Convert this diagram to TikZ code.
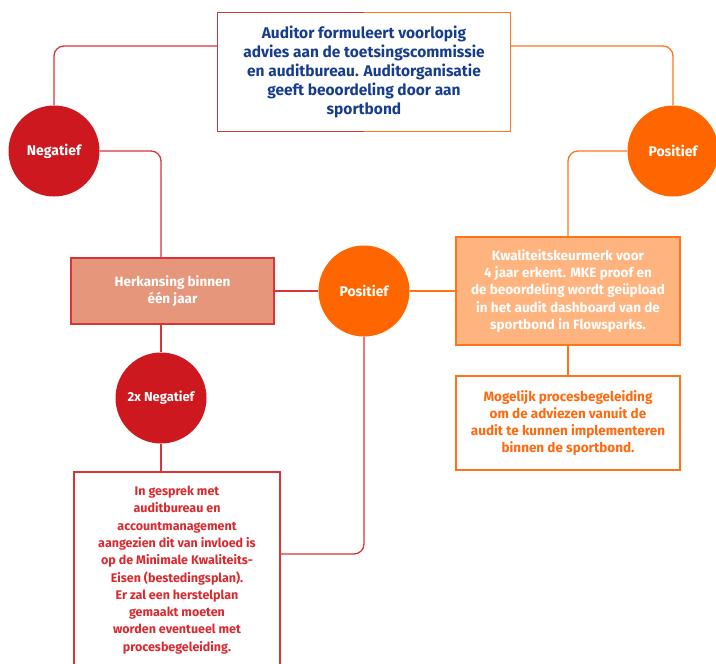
\documentclass[tikz,border=0pt]{standalone}
\usepackage{fontspec}
\setmainfont{Fira Sans}
\definecolor{cred}{HTML}{CC181E}
\definecolor{corange}{HTML}{FF6600}
\definecolor{lred}{HTML}{D8343A}
\definecolor{lorange}{HTML}{FF7418}
\definecolor{herkfill}{HTML}{E6977B}
\definecolor{kwalfill}{HTML}{FFB47F}
\definecolor{tblue}{HTML}{173D8C}
\definecolor{tred}{HTML}{D92A2F}
\definecolor{torange}{HTML}{FF6A10}
\tikzset{
  redline/.style={draw=lred, line width=1.3pt, rounded corners=10pt},
  orline/.style={draw=lorange, line width=1.3pt, rounded corners=10pt},
  circ/.style={circle, inner sep=0pt, minimum size=91pt, text=white, font=\fontsize{14}{16}\selectfont\bfseries},
  boxtext/.style={align=center, font=\fontsize{13.5}{17.2}\selectfont\bfseries, inner sep=0pt},
}
\begin{document}
\begin{tikzpicture}[x=1pt, y=-1pt]
\useasboundingbox (0,0) rectangle (716,664);
\clip (0,0) rectangle (716,664);
% top box
\node[minimum width=293pt, minimum height=118pt, inner sep=0pt, align=center, text=tblue,
      font=\fontsize{15.5}{18.8}\selectfont\bfseries] (top) at (364,72)
  {Auditor formuleert voorlopig\\advies aan de toetsingscommissie\\en auditbureau. Auditorganisatie\\geeft beoordeling door aan\\sportbond};
\draw[lred, line width=1.3pt] (top.north) -- (top.north west) -- (top.south west) -- (top.south);
\draw[lorange, line width=1.3pt] (top.north) -- (top.north east) -- (top.south east) -- (top.south);
% circles
\node[circ, fill=cred] (neg) at (54,151) {Negatief};
\node[circ, fill=corange] (pos1) at (673,151) {Positief};
\node[circ, fill=corange] (pos2) at (364,291) {Positief};
\node[circ, fill=cred, font=\fontsize{13}{15}\selectfont\bfseries] (negb) at (161,398) {2x Negatief};
% boxes
\node[boxtext, fill=herkfill, draw=lred, line width=1.3pt, text=white,
      minimum width=203pt, minimum height=66pt] (herk) at (172.5,291)
  {Herkansing binnen\\één jaar};
\node[boxtext, fill=kwalfill, draw=lorange, line width=1.3pt, text=white,
      minimum width=224pt, minimum height=108pt] (kwal) at (568,291)
  {Kwaliteitskeurmerk voor\\4 jaar erkent. MKE proof en\\de beoordeling wordt geüpload\\in het audit dashboard van de\\sportbond in Flowsparks.};
\node[boxtext, fill=white, draw=lorange, line width=1.3pt, text=torange,
      minimum width=224pt, minimum height=94pt] (mog) at (568,423)
  {Mogelijk procesbegeleiding\\om de adviezen vanuit de\\audit te kunnen implementeren\\binnen de sportbond.};
\node[boxtext, fill=white, draw=lred, line width=1.3pt, text=tred, font=\fontsize{12.5}{17.3}\selectfont\bfseries,
      minimum width=206pt, minimum height=196pt] (bot) at (177,570)
  {In gesprek met\\auditbureau en\\accountmanagement\\aangezien dit van invloed is\\op de Minimale Kwaliteits-\\Eisen (bestedingsplan).\\Er zal een herstelplan\\gemaakt moeten\\worden eventueel met\\procesbegeleiding.};
% connectors
\draw[redline] ([yshift=26pt]top.west) -| (neg.north);
\draw[orline] ([yshift=26pt]top.east) -| (pos1.north);
\draw[redline] (neg.east) -| (negb |- herk.north);
\draw[orline] (pos1.west) -| (kwal.north);
\draw[redline] (herk.east) -- (pos2.west);
\draw[orline] (pos2.east) -- (kwal.west);
\draw[orline] (kwal.south) -- (mog.north);
\draw[redline] (negb |- herk.south) -- (negb.north);
\draw[redline] (negb.south) -- (negb |- bot.north);
\draw[redline] (pos2.south) |- ([yshift=16pt]bot.east);
\end{tikzpicture}
\end{document}
